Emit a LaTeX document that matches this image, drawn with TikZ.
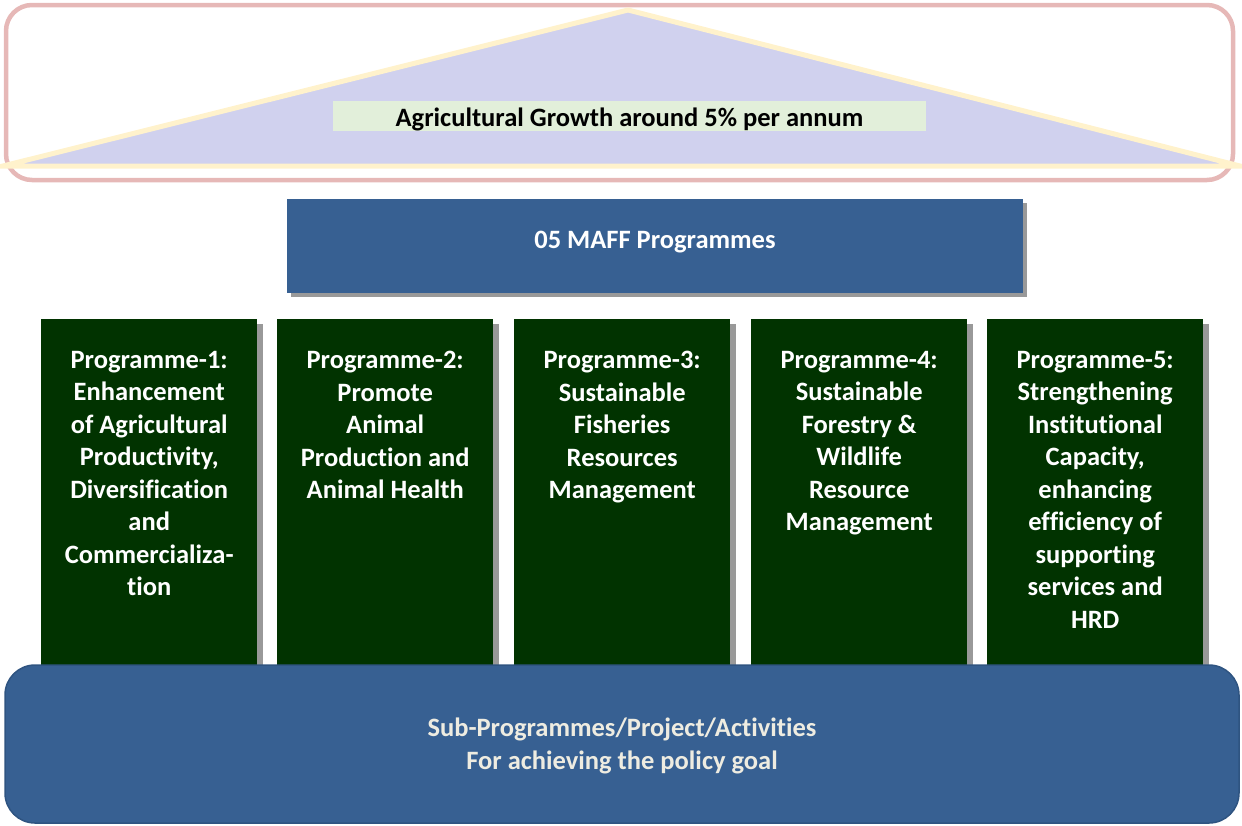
\documentclass[tikz,border=0pt]{standalone}
\usepackage{fontspec}
\setmainfont{Carlito}[Ligatures={NoCommon}]
\definecolor{pinkline}{HTML}{E6B8B7}
\definecolor{triyellow}{HTML}{FFF2CC}
\definecolor{trifill}{HTML}{D0D1EE}
\definecolor{labelgreen}{HTML}{E2EFDA}
\definecolor{boxblue}{HTML}{376092}
\definecolor{boxblueedge}{HTML}{2F5481}
\definecolor{colgreen}{HTML}{013300}
\definecolor{shadowgray}{HTML}{999999}
\definecolor{creamtext}{HTML}{EEECE1}
\begin{document}
\begin{tikzpicture}[x=1pt,y=-1pt,
  txt/.style={font=\bfseries\fontsize{26.5}{32.5}\selectfont, inner sep=0pt},
  colbox/.style={fill=colgreen, draw=none, minimum width=216pt, minimum height=346pt, anchor=north west, inner sep=0pt},
  colshadow/.style={fill=shadowgray, draw=none, minimum width=216pt, minimum height=346pt, anchor=north west, inner sep=0pt},
  coltext/.style={txt, text=white, align=center, anchor=north}
]
\useasboundingbox (0,0) rectangle (1242,825);
% top goal area
\draw[pinkline, line width=4.5pt, rounded corners=26pt] (6,5) rectangle (1233,180);
\coordinate (apex) at (628,10);
\coordinate (tl) at (3,166);
\coordinate (tr) at (1240,166);
\filldraw[fill=trifill, draw=triyellow, line width=5pt, line join=miter] (tl) -- (apex) -- (tr) -- cycle;
\node[fill=labelgreen, minimum width=593pt, minimum height=30pt, inner sep=0pt] (goal) at (629.5,116) {};
\node[txt, text=black] (goaltext) at (629.5,119) {Agricultural Growth around 5\% per annum};
% MAFF programmes
\node[fill=shadowgray, minimum width=736pt, minimum height=94pt, anchor=north west, inner sep=0pt] (maffsh) at (291,203) {};
\node[fill=boxblue, minimum width=736pt, minimum height=94pt, anchor=north west, inner sep=0pt] (maff) at (287,199) {};
\node[txt, text=white] (mafftext) at (655,242) {05 MAFF Programmes};
% columns
\foreach \i/\x in {1/41,2/277,3/514,4/751,5/987}{
  \node[colshadow] (sh\i) at (\x+6,324) {};
  \node[colbox] (col\i) at (\x,319) {};
}
\node[coltext] (t1) at ([yshift=-32pt]col1.north) {Programme-1:\\Enhancement\\of Agricultural\\Productivity,\\Diversification\\and\\Commercializa-\\tion};
\node[coltext] (t2) at ([yshift=-32pt]col2.north) {Programme-2:\\Promote\\Animal\\Production and\\Animal Health};
\node[coltext] (t3) at ([yshift=-32pt]col3.north) {Programme-3:\\Sustainable\\Fisheries\\Resources\\Management};
\node[coltext] (t4) at ([yshift=-32pt]col4.north) {Programme-4:\\Sustainable\\Forestry \&\\Wildlife\\Resource\\Management};
\node[coltext] (t5) at ([yshift=-32pt]col5.north) {Programme-5:\\Strengthening\\Institutional\\Capacity,\\enhancing\\efficiency of\\supporting\\services and\\HRD};
% bottom base
\draw[fill=boxblue, draw=boxblueedge, line width=1.5pt, rounded corners=30pt] (5,665) rectangle (1239,823);
\node[txt, text=creamtext, align=center] (basetext) at (622,746) {Sub-Programmes/Project/Activities\\For achieving the policy goal};
\end{tikzpicture}
\end{document}
